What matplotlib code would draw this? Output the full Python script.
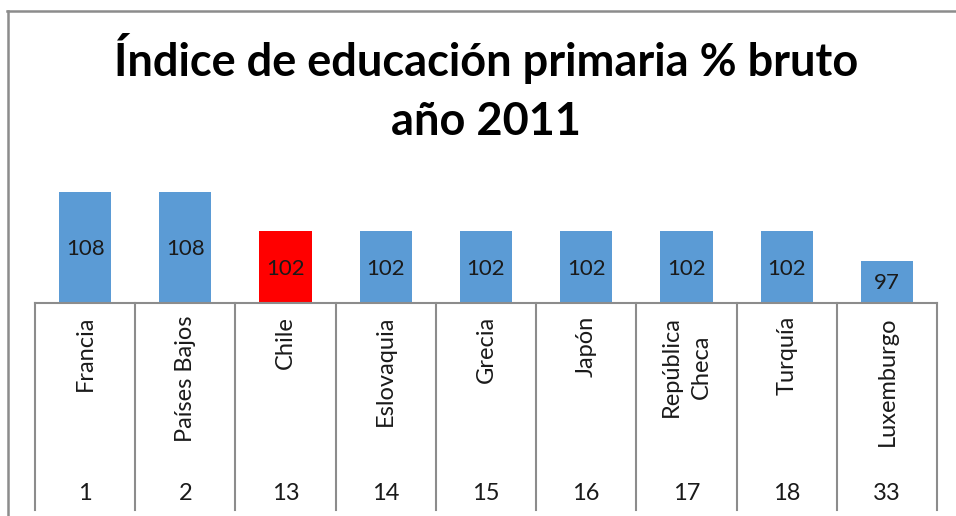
import matplotlib
matplotlib.use("Agg")
import matplotlib.pyplot as plt
import matplotlib.transforms as mtransforms
from matplotlib.lines import Line2D

countries = ["Francia", "Países Bajos", "Chile", "Eslovaquia", "Grecia", "Japón",
             "República\nCheca", "Turquía", "Luxemburgo"]
ranks = ["1", "2", "13", "14", "15", "16", "17", "18", "33"]
values = [107.8, 107.8, 101.6, 101.6, 101.6, 101.6, 101.6, 101.6, 96.8]
colors = ["#5B9BD5", "#5B9BD5", "#FF0000", "#5B9BD5", "#5B9BD5", "#5B9BD5",
          "#5B9BD5", "#5B9BD5", "#5B9BD5"]
title_lines = ["Índice de educación primaria % bruto", "año 2011"]

W, H = 956, 516
fig = plt.figure(figsize=(W / 100, H / 100), dpi=100)
renderer = fig.canvas.get_renderer()

x0, x1 = 35, 937
ybase, ytop = 302.7, 178.7
ax = fig.add_axes([x0 / W, (H - ybase) / H, (x1 - x0) / W, (ybase - ytop) / H])
ax.set_xlim(-0.5, len(countries) - 0.5)
ax.set_ylim(90, 110)

xs = list(range(len(countries)))
ax.bar(xs, [v - 90 for v in values], bottom=90, width=0.52, color=colors, zorder=2)
for xi, v in zip(xs, values):
    ax.text(xi, (v + 90) / 2 - 0.3, f"{v:.0f}", ha="center", va="center",
            fontsize=16, family="Lato", color="#1a1a1a", zorder=3)

for s in ["top", "right", "left"]:
    ax.spines[s].set_visible(False)
ax.spines["bottom"].set_color("#8c8c8c")
ax.spines["bottom"].set_linewidth(1.5)
ax.set_xticks([])
ax.set_yticks([])
ax.patch.set_alpha(0)

# category separators and labels
trans = mtransforms.blended_transform_factory(ax.transData, fig.transFigure)
ybot = 510
for i in range(len(countries) + 1):
    ax.add_line(Line2D([i - 0.5, i - 0.5], [(H - ybase) / H, (H - ybot) / H],
                       transform=trans, color="#8c8c8c", lw=1.5, clip_on=False))

label_kw = dict(fontsize=17, family="Lato", color="#1a1a1a")
line_gap = 30  # px between rotated lines
label_top = 316
for xi, name, r in zip(xs, countries, ranks):
    parts = name.split("\n")
    # measure lengths of each line
    lens = []
    for p in parts:
        t = fig.text(0, 0, p, **label_kw)
        lens.append(t.get_window_extent(renderer).width)
        t.remove()
    maxlen = max(lens)
    n = len(parts)
    for k, (p, L) in enumerate(zip(parts, lens)):
        dx_px = (k - (n - 1) / 2) * line_gap
        off = mtransforms.ScaledTranslation(dx_px / 100, 0, fig.dpi_scale_trans)
        ytxt = label_top + (maxlen - L) / 2
        ax.text(xi, (H - ytxt) / H, p, transform=trans + off, rotation=90,
                ha="center", va="top", **label_kw)
    ax.text(xi, (H - 493) / H, r, transform=trans, ha="center", va="center", **label_kw)

for line, yb in zip(title_lines, [76, 135]):
    fig.text(486 / W, (H - yb) / H, line, ha="center", va="baseline", fontsize=32.5,
             fontweight="bold", family="Lato")

# chart frame
fig.add_artist(Line2D([7.5 / W, 7.5 / W], [(H - 11) / H, 0], transform=fig.transFigure,
                      color="#8c8c8c", lw=1.8))
fig.add_artist(Line2D([7 / W, 1], [(H - 11) / H, (H - 11) / H], transform=fig.transFigure,
                      color="#8c8c8c", lw=1.8))

fig.savefig("out.png", dpi=100, facecolor="white")
